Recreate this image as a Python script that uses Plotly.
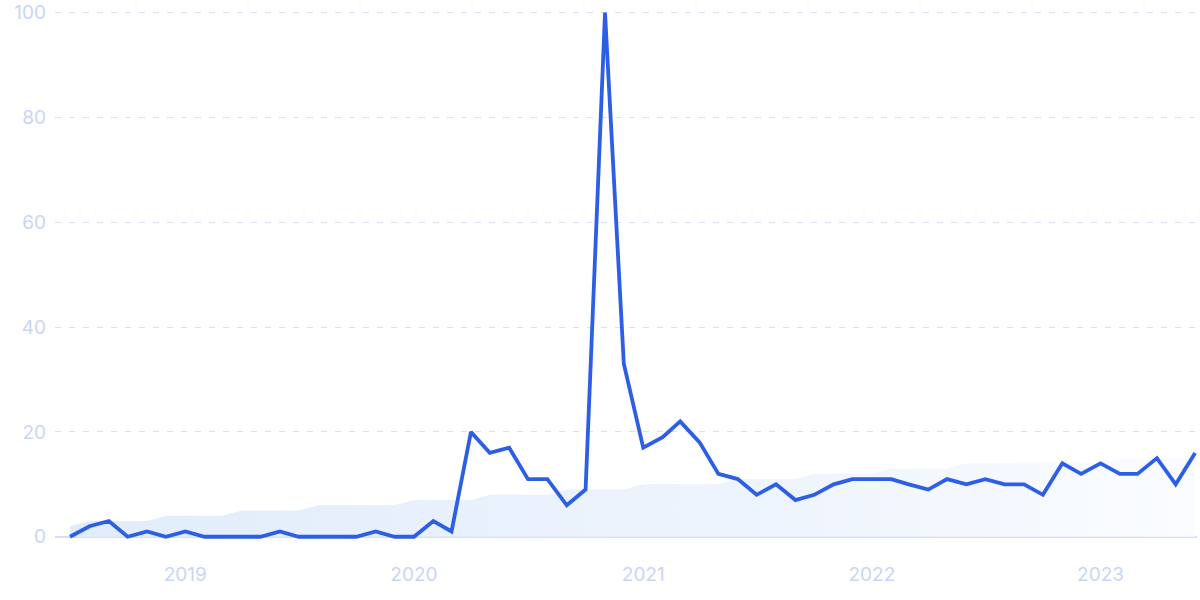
import plotly.graph_objects as go
import pandas as pd

months = pd.date_range("2018-07-01", periods=60, freq="MS")

interest = [0, 2, 3, 0, 1, 0, 1, 0, 0, 0, 0, 1, 0, 0, 0, 0, 1, 0,
            0, 3, 1, 20, 16, 17, 11, 11, 6, 9, 100, 33,
            17, 19, 22, 18, 12, 11, 8, 10, 7, 8, 10, 11,
            11, 11, 10, 9, 11, 10, 11, 10, 10, 8, 14, 12,
            14, 12, 12, 15, 10, 16]

trend = [2, 3, 3, 3, 3, 4, 4, 4, 4, 5, 5, 5, 5, 6, 6, 6, 6, 6,
         7, 7, 7, 7, 8, 8, 8, 8, 9, 9, 9, 9,
         10, 10, 10, 10, 10, 11, 11, 11, 11, 12, 12, 12,
         12, 13, 13, 13, 13, 14, 14, 14, 14, 14, 14, 14,
         14, 15, 15, 15, 15, 15.5]

year_ticks = ["2019-01-01", "2020-01-01", "2021-01-01", "2022-01-01", "2023-01-01"]
year_labels = ["2019", "2020", "2021", "2022", "2023"]
y_ticks = [0, 20, 40, 60, 80, 100]

label_color = "#c9d5f5"
font_family = "Inter, Roboto, sans-serif"

fig = go.Figure()
fig.add_trace(go.Scatter(
    x=months, y=trend, mode="lines", line=dict(width=0, color="rgba(0,0,0,0)"),
    fill="tozeroy",
    fillgradient=dict(type="horizontal",
                      colorscale=[[0, "#e1ecfb"], [0.6, "#eef4fd"], [1, "#fafcff"]]),
    hoverinfo="skip", showlegend=False,
))
fig.add_trace(go.Scatter(
    x=months, y=interest, mode="lines",
    line=dict(color="#2c5fe6", width=3.8),
    showlegend=False,
))

fig.update_layout(
    width=1200, height=600,
    margin=dict(l=55, r=3, t=11, b=58, autoexpand=False),
    paper_bgcolor="white", plot_bgcolor="white",
    font=dict(family=font_family, size=18, color=label_color),
)
fig.update_xaxes(
    range=["2018-06-07", "2023-06-04"],
    tickvals=year_ticks, ticktext=year_labels,
    showgrid=False, zeroline=False, showline=False, ticks="",
    automargin=False,
    ticklabelstandoff=19,
    tickfont=dict(size=19, color=label_color),
)
fig.update_yaxes(
    range=[-1, 100.3],
    tickvals=y_ticks,
    showgrid=True, gridcolor="#d6e0f8", griddash="6px,8px", gridwidth=1.2,
    zeroline=True, zerolinecolor="#d3def7", zerolinewidth=1.5,
    showline=False, ticks="",
    automargin=False,
    ticklabelstandoff=8,
    ticklabeloverflow="allow",
    tickfont=dict(size=19, color=label_color),
)

fig.write_html(
    "out.html",
    config={"displayModeBar": False},
    post_script="document.body.style.margin='0';document.body.style.overflow='hidden';",
)
